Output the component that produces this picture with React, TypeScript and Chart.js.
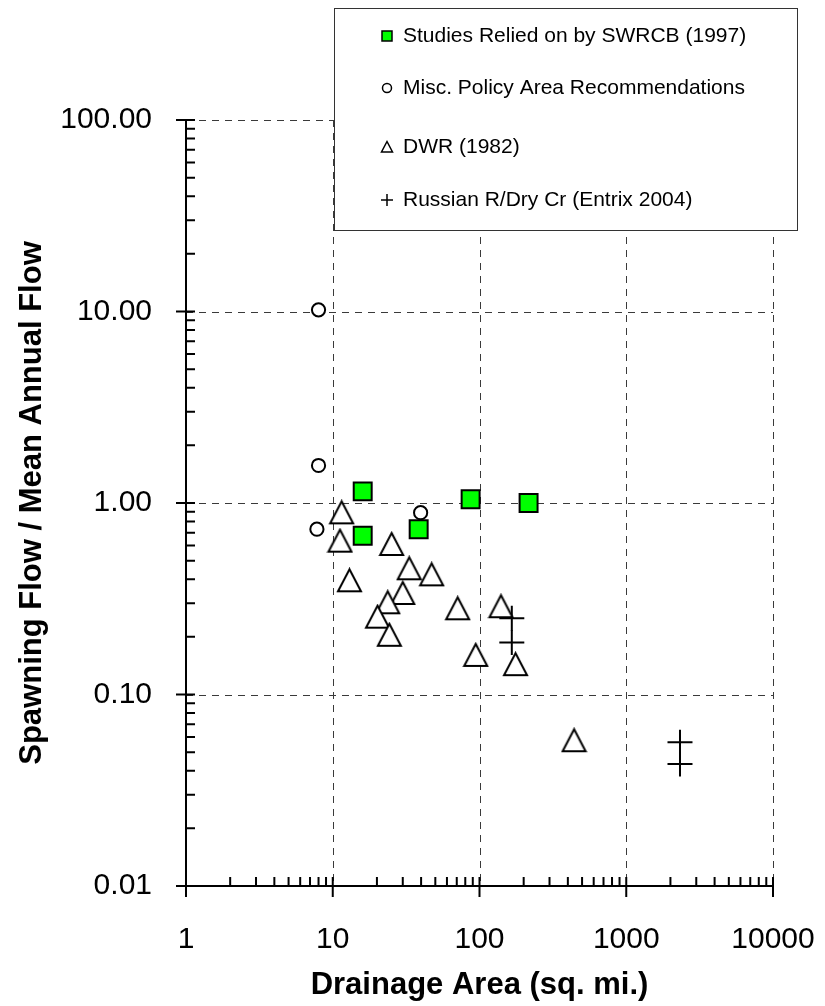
import React, { useEffect, useRef } from 'react';
import { Chart, registerables } from 'chart.js';

Chart.register(...registerables);

// ---- Data ----
const seriesLabels = [
  'Studies Relied on by SWRCB (1997)',
  'Misc. Policy Area Recommendations',
  'DWR (1982)',
  'Russian R/Dry Cr (Entrix 2004)',
];

const swrcbArea = [16.0, 16.0, 38.5, 87, 216];
const swrcbRatio = [1.15, 0.675, 0.73, 1.045, 1.0];

const miscArea = [8.0, 8.0, 7.8, 39.7];
const miscRatio = [10.2, 1.57, 0.73, 0.89];

const dwrArea = [11.5, 11.2, 25.2, 13.0, 33.2, 47.2, 30.0, 23.7, 20.2, 24.3, 71.0, 140, 94.2, 176, 441];
const dwrRatio = [0.894, 0.636, 0.611, 0.395, 0.456, 0.424, 0.339, 0.303, 0.255, 0.205, 0.282, 0.289, 0.161, 0.144, 0.0577];

const russianArea = [166, 166, 2324, 2324];
const russianRatio = [0.25, 0.187, 0.0563, 0.0434];

const xTickValues = [1, 10, 100, 1000, 10000];
const yTickValues = [0.01, 0.1, 1, 10, 100];
const xTitle = 'Drainage Area (sq. mi.)';
const yTitle = 'Spawning Flow / Mean Annual Flow';

const FONT = "'Liberation Sans', Arial, sans-serif";

const toPoints = (xs: number[], ys: number[]) => xs.map((x, i) => ({ x, y: ys[i] }));

function makeTriangle(w: number, h: number, lw: number): HTMLCanvasElement {
  const c = document.createElement('canvas');
  const pad = lw;
  c.width = Math.ceil(w + pad * 2);
  c.height = Math.ceil(h + pad * 2);
  const g = c.getContext('2d')!;
  g.beginPath();
  g.moveTo(c.width / 2, pad);
  g.lineTo(c.width / 2 + w / 2, pad + h);
  g.lineTo(c.width / 2 - w / 2, pad + h);
  g.closePath();
  g.fillStyle = '#ffffff';
  g.fill();
  g.lineWidth = lw;
  g.lineJoin = 'miter';
  g.strokeStyle = '#000000';
  g.stroke();
  return c;
}

const axesPlugin = {
  id: 'customAxes',
  beforeDatasetsDraw(chart: any) {
    const { ctx, chartArea: a, scales } = chart;
    const xs = scales.x;
    const ys = scales.y;
    ctx.save();
    // dashed grid lines at decades
    ctx.strokeStyle = '#3a3a3a';
    ctx.lineWidth = 1;
    ctx.setLineDash([7, 6]);
    for (const v of xTickValues) {
      const px = Math.round(xs.getPixelForValue(v)) + 0.5;
      ctx.beginPath();
      ctx.moveTo(px, a.top);
      ctx.lineTo(px, a.bottom);
      ctx.stroke();
    }
    for (const v of yTickValues) {
      const py = Math.round(ys.getPixelForValue(v)) + 0.5;
      ctx.beginPath();
      ctx.moveTo(a.left, py);
      ctx.lineTo(a.right, py);
      ctx.stroke();
    }
    ctx.setLineDash([]);
    ctx.strokeStyle = '#000000';
    ctx.lineWidth = 2;
    ctx.beginPath();
    ctx.moveTo(a.left, a.top);
    ctx.lineTo(a.left, a.bottom);
    ctx.moveTo(a.left, a.bottom);
    ctx.lineTo(a.right, a.bottom);
    // x ticks
    for (let d = 0; d < xTickValues.length; d++) {
      const base = xTickValues[d];
      const px = xs.getPixelForValue(base);
      ctx.moveTo(px, a.bottom - 9);
      ctx.lineTo(px, a.bottom + 11);
      if (d < xTickValues.length - 1) {
        for (let m = 2; m <= 9; m++) {
          const p = xs.getPixelForValue(base * m);
          ctx.moveTo(p, a.bottom);
          ctx.lineTo(p, a.bottom - 9);
        }
      }
    }
    // y ticks
    for (let d = 0; d < yTickValues.length; d++) {
      const base = yTickValues[d];
      const py = ys.getPixelForValue(base);
      ctx.moveTo(a.left - 10, py);
      ctx.lineTo(a.left + 9, py);
      if (d < yTickValues.length - 1) {
        for (let m = 2; m <= 9; m++) {
          const p = ys.getPixelForValue(base * m);
          ctx.moveTo(a.left, p);
          ctx.lineTo(a.left + 9, p);
        }
      }
    }
    ctx.stroke();
    ctx.restore();
  },
};

const legendPlugin = {
  id: 'boxLegend',
  afterDraw(chart: any) {
    const { ctx } = chart;
    const box = { left: 334, top: 8, right: 797, bottom: 230 };
    const rows = [36, 88, 147, 200];
    const mx = 387;
    ctx.save();
    ctx.fillStyle = '#ffffff';
    ctx.fillRect(box.left, box.top, box.right - box.left, box.bottom - box.top);
    ctx.strokeStyle = '#333333';
    ctx.lineWidth = 1;
    ctx.strokeRect(box.left + 0.5, box.top + 0.5, box.right - box.left, box.bottom - box.top);

    // markers
    ctx.lineWidth = 1.5;
    ctx.strokeStyle = '#000000';
    // square
    ctx.fillStyle = '#00ff00';
    ctx.fillRect(mx - 5, rows[0] - 5, 10, 10);
    ctx.strokeRect(mx - 5, rows[0] - 5, 10, 10);
    // circle
    ctx.beginPath();
    ctx.arc(mx, rows[1], 4.5, 0, Math.PI * 2);
    ctx.fillStyle = '#ffffff';
    ctx.fill();
    ctx.stroke();
    // triangle
    ctx.beginPath();
    ctx.moveTo(mx, rows[2] - 5.5);
    ctx.lineTo(mx + 5.5, rows[2] + 5);
    ctx.lineTo(mx - 5.5, rows[2] + 5);
    ctx.closePath();
    ctx.stroke();
    // plus
    ctx.beginPath();
    ctx.moveTo(mx - 6, rows[3]);
    ctx.lineTo(mx + 6, rows[3]);
    ctx.moveTo(mx, rows[3] - 6);
    ctx.lineTo(mx, rows[3] + 6);
    ctx.stroke();

    // labels
    ctx.fillStyle = '#000000';
    ctx.font = `21px ${FONT}`;
    ctx.textBaseline = 'middle';
    ctx.textAlign = 'left';
    seriesLabels.forEach((t, i) => ctx.fillText(t, 403, rows[i]));
    ctx.restore();
  },
};

export default function App() {
  const canvasRef = useRef<HTMLCanvasElement | null>(null);

  useEffect(() => {
    const canvas = canvasRef.current;
    if (!canvas) return;
    const tri = makeTriangle(23, 22, 2);

    const chart = new Chart(canvas, {
      type: 'scatter',
      data: {
        datasets: [
          {
            label: seriesLabels[0],
            data: toPoints(swrcbArea, swrcbRatio),
            pointStyle: 'rect',
            pointRadius: 12.7,
            backgroundColor: '#00ff00',
            borderColor: '#000000',
            borderWidth: 2,
          },
          {
            label: seriesLabels[1],
            data: toPoints(miscArea, miscRatio),
            pointStyle: 'circle',
            pointRadius: 6.6,
            backgroundColor: '#ffffff',
            borderColor: '#000000',
            borderWidth: 2,
          },
          {
            label: seriesLabels[2],
            data: toPoints(dwrArea, dwrRatio),
            pointStyle: tri as any,
            pointRadius: 12,
            backgroundColor: '#ffffff',
            borderColor: '#000000',
            borderWidth: 2,
          },
          {
            label: seriesLabels[3],
            data: toPoints(russianArea, russianRatio),
            pointStyle: 'cross',
            pointRadius: 12.5,
            backgroundColor: '#000000',
            borderColor: '#000000',
            borderWidth: 2,
          },
        ],
      },
      options: {
        responsive: false,
        animation: false,
        devicePixelRatio: 1,
        layout: { padding: { left: 0, top: 120, right: 52, bottom: 0 } },
        plugins: {
          legend: { display: false },
          tooltip: { enabled: false },
        },
        scales: {
          x: {
            type: 'logarithmic',
            position: 'bottom',
            min: 1,
            max: 10000,
            grid: { display: false },
            border: { display: false },
            afterBuildTicks: (scale: any) => {
              scale.ticks = xTickValues.map((v) => ({ value: v }));
            },
            afterFit: (scale: any) => {
              scale.height = 120;
              scale.paddingLeft = 0;
              scale.paddingRight = 0;
            },
            ticks: {
              autoSkip: false,
              maxRotation: 0,
              padding: 28,
              color: '#000000',
              font: { family: FONT, size: 30 },
              callback: (v: any) => String(v),
            },
            title: {
              display: true,
              text: xTitle,
              color: '#000000',
              font: { family: FONT, size: 31, weight: 'bold' },
              padding: { top: 0, bottom: 2 },
            },
          },
          y: {
            type: 'logarithmic',
            position: 'left',
            min: 0.01,
            max: 100,
            grid: { display: false },
            border: { display: false },
            afterBuildTicks: (scale: any) => {
              scale.ticks = yTickValues.map((v) => ({ value: v }));
            },
            afterFit: (scale: any) => {
              scale.width = 186;
              scale.paddingTop = 0;
              scale.paddingBottom = 0;
            },
            ticks: {
              autoSkip: false,
              padding: 26,
              color: '#000000',
              font: { family: FONT, size: 30 },
              callback: (v: any) => Number(v).toFixed(2),
            },
            title: {
              display: true,
              text: yTitle,
              color: '#000000',
              font: { family: FONT, size: 31, weight: 'bold' },
              padding: { top: 14, bottom: 0 },
            },
          },
        },
      },
      plugins: [axesPlugin, legendPlugin],
    } as any);

    return () => chart.destroy();
  }, []);

  return (
    <div style={{ position: 'absolute', left: 0, top: 0, width: 825, height: 1006, background: '#ffffff' }}>
      <canvas ref={canvasRef} width={825} height={1006} style={{ display: 'block', width: 825, height: 1006 }} />
    </div>
  );
}
